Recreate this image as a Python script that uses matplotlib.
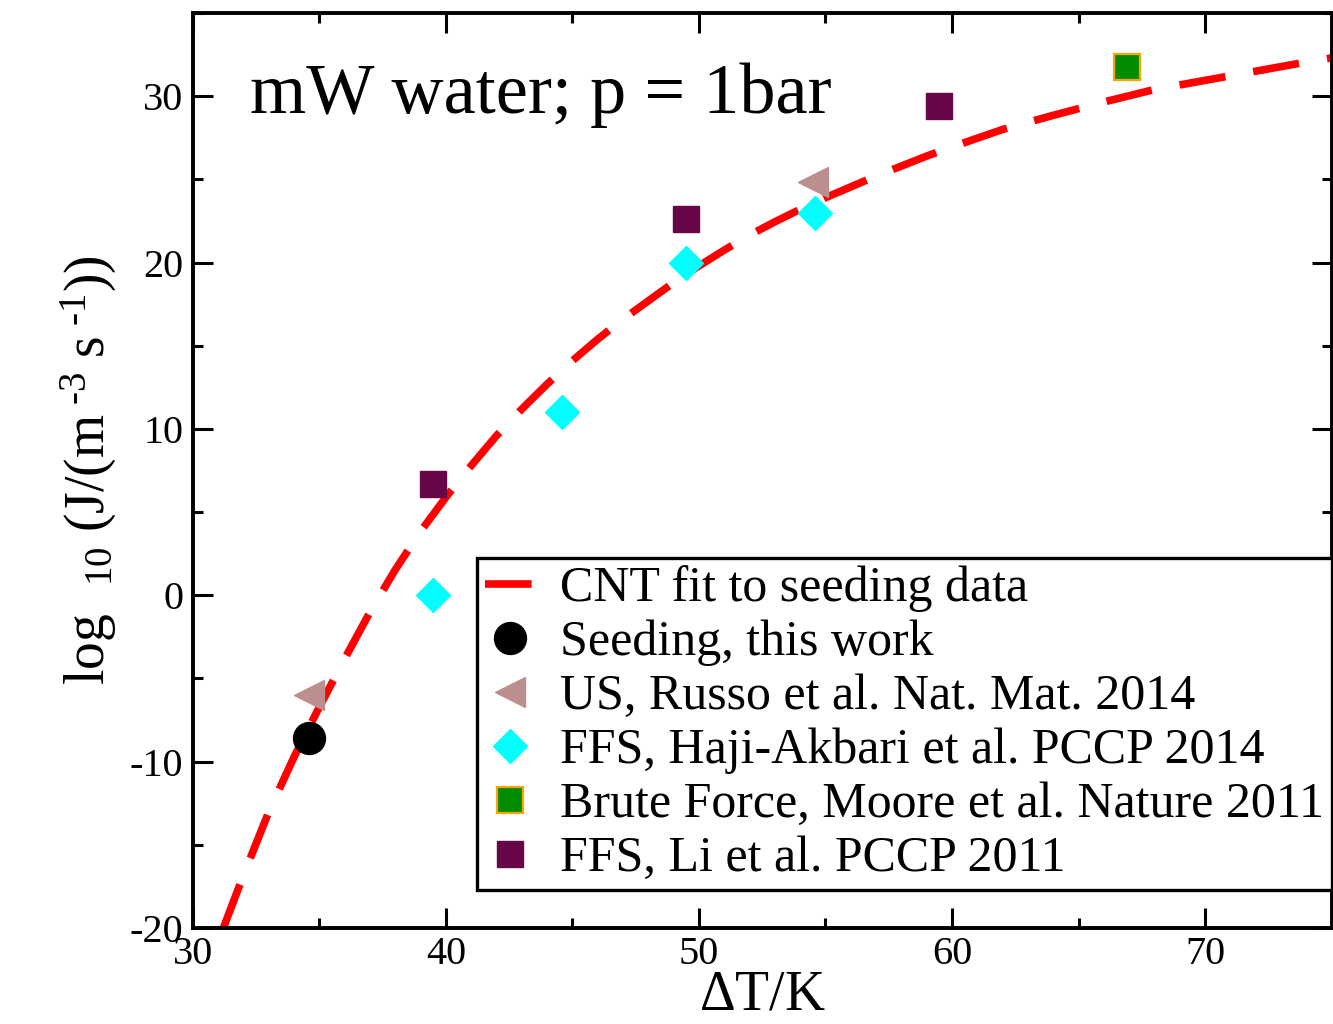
import matplotlib
matplotlib.use("Agg")
import matplotlib.pyplot as plt
from matplotlib.ticker import MultipleLocator

plt.rcParams['font.family'] = ['Liberation Serif', 'DejaVu Serif']
plt.rcParams['mathtext.fontset'] = 'custom'
plt.rcParams['mathtext.rm'] = 'Liberation Serif'
plt.rcParams['mathtext.it'] = 'Liberation Serif:italic'
plt.rcParams['axes.unicode_minus'] = False

# CNT fit curve
cnt_x = [31.2, 32.0, 33.0, 34.0, 35.0, 36.0, 37.0, 38.0, 39.0, 40.0, 41.0, 42.0,
         43.0, 44.0, 45.0, 46.0, 47.0, 48.0, 49.0, 50.0, 51.0, 52.0, 53.0, 54.0,
         55.0, 56.0, 57.0, 58.0, 59.0, 60.0, 62.0, 64.0, 66.0, 68.0, 70.0, 72.0,
         74.0, 75.0]
cnt_y = [-20.0, -16.8, -13.0, -9.7, -6.7, -3.8, -1.0, 1.55, 3.85, 5.9, 7.8, 9.6,
         11.2, 12.7, 14.1, 15.4, 16.6, 17.7, 18.8, 19.8, 20.75, 21.65, 22.45, 23.2,
         23.9, 24.55, 25.2, 25.8, 26.4, 26.95, 28.0, 28.85, 29.65, 30.4, 30.95, 31.5,
         32.05, 32.3]

seed_x = [34.6]
seed_y = [-8.6]

russo_x = [34.6, 54.5]
russo_y = [-6.0, 24.85]

haji_x = [39.5, 44.6, 49.5, 54.6]
haji_y = [0.0, 11.0, 20.0, 23.0]

moore_x = [66.9]
moore_y = [31.75]

li_x = [39.5, 49.5, 59.5]
li_y = [6.7, 22.6, 29.4]

labels = ["CNT fit to seeding data",
          "Seeding, this work",
          "US, Russo et al. Nat. Mat. 2014",
          "FFS, Haji-Akbari et al. PCCP 2014",
          "Brute Force, Moore et al. Nature 2011",
          "FFS, Li et al. PCCP 2011"]

fig = plt.figure(figsize=(13.33, 10.24), dpi=100)
ax = fig.add_axes([193/1333, 1-928/1024, (1331.5-193)/1333, (928-13)/1024])

ax.plot(cnt_x, cnt_y, color='#ff0000', lw=5.5, dashes=(6.1, 3.7),
        dash_capstyle='butt', label=labels[0], zorder=2)
ax.plot(seed_x, seed_y, 'o', color='black', ms=23, ls='none', label=labels[1], zorder=3)
ax.plot(russo_x, russo_y, '<', color='#bc8f8f', mec='#bc8f8f', ms=22, ls='none',
        label=labels[2], zorder=3)
ax.plot(haji_x, haji_y, 'D', color='#00ffff', mec='#00ffff', ms=17.5, ls='none',
        label=labels[3], zorder=3)
ax.plot(moore_x, moore_y, 's', color='#008b00', mec='#ffa500', mew=1.6, ms=18.5,
        ls='none', label=labels[4], zorder=3)
ax.plot(li_x, li_y, 's', color='#670748', mec='#670748', ms=19, ls='none',
        label=labels[5], zorder=3)

ax.set_xlim(30, 75)
ax.set_ylim(-20, 35)
ax.xaxis.set_major_locator(MultipleLocator(10))
ax.xaxis.set_minor_locator(MultipleLocator(5))
ax.yaxis.set_major_locator(MultipleLocator(10))
ax.yaxis.set_minor_locator(MultipleLocator(5))
ax.tick_params(which='both', direction='in', top=True, right=True, width=2.2,
               labelsize=29, colors='black')
ax.tick_params(which='major', length=14.5)
ax.tick_params(which='minor', length=7.5)
ax.tick_params(axis='x', pad=6)
ax.tick_params(axis='y', pad=7)
for s in ax.spines.values():
    s.set_linewidth(2.8)

ax.set_xlabel(r"$\Delta$T/K", fontsize=40, labelpad=-2.5)
ax.set_ylabel("log$_{\\ \\ \\ 10}$ (J/(m$^{\\ \u20103}$ s$^{\\ \u20101}$))",
              fontsize=40, labelpad=8)

ax.text(0.05, 0.8907, "mW water; p = 1bar", transform=ax.transAxes,
        fontsize=52, va='baseline', ha='left')

leg = ax.legend(loc='lower right', bbox_to_anchor=(1.0, 0.0415), fontsize=36,
                frameon=True, fancybox=False, edgecolor='black', framealpha=1,
                numpoints=1, handlelength=1.0, handletextpad=0.5,
                borderpad=0.155, labelspacing=0.15, borderaxespad=0.0)
leg.get_frame().set_linewidth(2.4)

fig.savefig("out.png", dpi=100)
